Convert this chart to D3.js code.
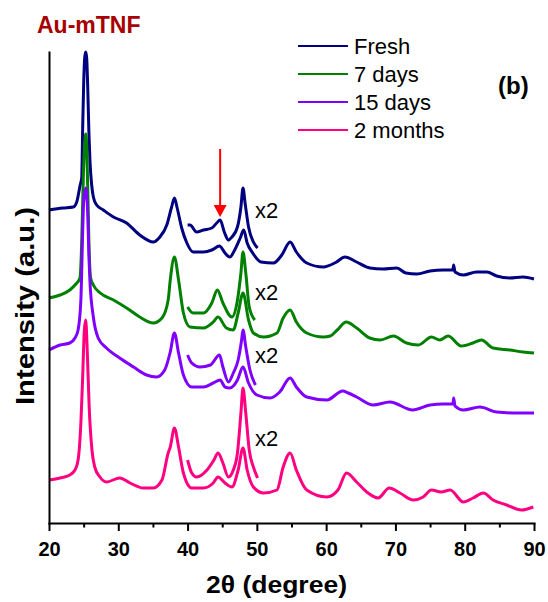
<!DOCTYPE html>
<html><head><meta charset="utf-8">
<script src="https://cdn.jsdelivr.net/npm/d3@7"></script>
<style>
html,body{margin:0;padding:0;background:#fff;}
svg{display:block;font-family:"Liberation Sans",Arial,Helvetica,sans-serif;}
</style>
</head><body>
<svg id="chart" width="548" height="602"></svg>
<script>
// ---- data: [2theta (degree), intensity (a.u., offset stacked)] ----
const seriesNames = ["Fresh", "7 days", "15 days", "2 months"];
const seriesColors = ["#000080", "#008000", "#8000ff", "#ff0080"];

const freshMain = [[20,313],[22,315],[23.5,316],[24,321],[24.5,338],[24.72,345],[24.86,395],[25,438],[25.15,465],[25.3,471],[25.44,465],[25.58,438],[25.77,388],[25.92,361],[26.16,338],[26.4,326],[26.88,318],[27.84,313],[29.3,306],[31.2,300],[33.1,288],[35.05,281],[36,286],[37,298],[37.7,316],[38.1,325],[38.5,315],[39.15,295],[39.9,280],[40.8,271],[42.3,271],[43.5,273],[44.6,277],[45.4,270],[46.1,266],[46.8,273],[47.6,285],[48.1,293],[48.6,280],[49.4,270],[50.6,261],[52.4,260],[53.6,268],[54.8,281],[55.7,271],[57.2,260],[59.6,256],[61.5,261],[62.7,266],[64.4,261],[66.3,255],[68.2,254],[70.2,255],[71.5,250],[73.1,249],[75,252],[76.9,253],[78.3,253],[78.4,258],[78.6,251],[79.8,248],[81.7,251],[83.2,251],[84.6,247],[86.5,245],[88.4,246],[90,244]];
const freshX2 = [[40,298],[40.35,298],[41.3,291],[42.3,293],[43.5,295],[44.2,300],[44.7,303],[45.3,291],[45.9,283],[46.4,286],[47.2,296],[47.7,316],[48,335],[48.3,320],[48.8,296],[49.5,281],[50.1,275]];

const days7Main = [[20,225],[21.6,228],[23,233],[23.75,238],[24.47,245],[24.71,278],[24.95,345],[25.15,378],[25.29,389],[25.44,378],[25.58,338],[25.77,278],[26.01,245],[26.4,238],[27.4,230],[29.3,223],[31.2,215],[33.1,206],[35.05,200],[36.3,205],[37.2,223],[37.5,243],[38.1,266],[38.7,243],[39.4,210],[40.35,196],[42.3,195],[43.7,201],[44.4,206],[45.6,195],[46.6,193],[47.3,210],[48,230],[48.8,203],[49.5,190],[50.95,186],[52.9,190],[53.8,205],[54.8,213],[55.7,201],[57.2,190],[59.6,186],[60.6,187],[61.6,193],[62.9,201],[64.4,195],[66.3,185],[67.8,183],[69.7,187],[71.6,180],[73.3,178],[75.2,186],[76.4,183],[77.6,187],[79.5,177],[81.2,180],[82.4,183],[84.1,175],[86.5,173],[88.4,171],[90,170]];
const days7X2 = [[40,216],[40.8,210],[42.3,210],[43.5,220],[44.3,233],[45.1,220],[46.4,206],[47.2,223],[47.7,250],[48,271],[48.4,250],[48.9,216],[49.7,203]];

const days15Main = [[20,173],[21.6,178],[23,180],[23.75,185],[24.2,193],[24.6,223],[24.86,291],[25,321],[25.29,335],[25.58,311],[25.77,265],[25.9,243],[26.4,206],[27.1,185],[28.3,175],[30.2,165],[32.2,156],[34.1,148],[35.5,146],[36.7,153],[37.5,171],[38.1,190],[38.7,170],[39.4,148],[40.6,136],[42.3,136],[43.7,140],[44.7,143],[45.4,136],[46.1,135],[47.2,143],[48,156],[48.8,140],[50,128],[51.9,125],[53.3,131],[54.8,145],[55.7,136],[57.2,126],[60.1,123],[62.4,132],[63.2,130],[64.4,126],[66.8,118],[69.2,121],[72.5,113],[75,118],[76.9,119],[78.3,119],[78.4,125],[78.6,117],[79.8,113],[82.2,116],[84.6,111],[87.5,110],[90,110]];
const days15X2 = [[40,168],[40.6,160],[41.8,156],[43.3,158],[44.6,168],[45.1,156],[45.9,141],[46.6,150],[47.3,163],[47.8,183],[48,193],[48.4,176],[49,153],[49.8,138]];

const months2Main = [[20,43],[21.6,45],[23,48],[23.75,53],[24.2,63],[24.6,100],[24.86,146],[25.1,193],[25.3,203],[25.5,176],[25.8,116],[26.2,73],[26.6,56],[27.35,46],[28.3,41],[30.2,45],[31.7,40],[33.6,35],[35.05,35],[36.3,43],[37.2,70],[37.5,76],[38.1,95],[38.7,76],[39.4,50],[40.6,35],[42.3,35],[43.7,40],[44.4,46],[45.4,40],[46.4,36],[47.3,53],[48,75],[48.6,53],[49.5,36],[50.95,30],[52.9,33],[53.8,56],[54.8,70],[55.7,53],[57.2,33],[60.1,26],[61.7,33],[62.95,50],[64.4,41],[65.85,31],[67.5,25],[69.1,35],[70.65,30],[72.6,23],[74,26],[75.2,33],[76.6,31],[77.9,33],[79.8,21],[81.2,25],[82.7,30],[84.1,23],[86.05,18],[88.2,13],[89.9,16]];
const months2X2 = [[40,63],[40.6,50],[41.3,46],[42.8,53],[43.8,63],[44.4,70],[45.1,60],[45.9,46],[46.6,53],[47.2,70],[47.7,110],[48,135],[48.4,110],[48.9,73],[49.5,56],[50.1,45]];

const majorTicks = [20, 30, 40, 50, 60, 70, 80, 90];
const minorTicks = [25, 35, 45, 55, 65, 75, 85];
const magnifyLabel = "x2";
const arrowAngle = 44.7;

// ---- drawing ----
const svg = d3.select("#chart");
const x = d3.scaleLinear().domain([20, 90]).range([49, 534]);
const y = d3.scaleLinear().domain([0, 471]).range([523, 52]);

const mains = [freshMain, days7Main, days15Main, months2Main];
const insets = [freshX2, days7X2, days15X2, months2X2];

const line = d3.line().x(d => x(d[0])).y(d => y(d[1])).curve(d3.curveMonotoneX);

mains.forEach((s, i) => {
  svg.append("path").datum(s).attr("d", line)
    .attr("fill", "none").attr("stroke", seriesColors[i])
    .attr("stroke-width", 3).attr("stroke-linejoin", "round");
  svg.append("path").datum(insets[i]).attr("d", line)
    .attr("fill", "none").attr("stroke", seriesColors[i])
    .attr("stroke-width", 3).attr("stroke-linejoin", "round");
});

// x2 labels
const x2Baselines = [218, 300, 363, 446];
insets.forEach((s, i) => {
  svg.append("text").text(magnifyLabel)
    .attr("x", 255).attr("y", x2Baselines[i])
    .attr("font-size", 22).attr("fill", "#000");
});

// axes
const gx = svg.append("g").attr("transform", `translate(0,${y(0)})`)
  .call(d3.axisBottom(x).tickValues(majorTicks).tickSize(8).tickSizeOuter(0).tickPadding(11));
gx.selectAll("text").attr("font-size", 20).attr("font-weight", "bold")
  .attr("font-family", "'Liberation Sans',Arial,sans-serif").attr("fill", "#000");
const gxm = svg.append("g").attr("transform", `translate(0,${y(0)})`)
  .call(d3.axisBottom(x).tickValues(minorTicks).tickSize(4.5).tickSizeOuter(0).tickFormat(""));
gxm.select(".domain").remove();
const gy = svg.append("g").attr("transform", `translate(${x(20)},0)`)
  .call(d3.axisLeft(y).tickValues([]).tickSizeOuter(0));
[gx, gxm, gy].forEach(g => {
  g.selectAll("path,line").attr("stroke", "#000").attr("stroke-width", 2);
});
gx.select(".domain").attr("stroke-linecap", "square");
gy.select(".domain").attr("stroke-linecap", "square");

// axis titles
svg.append("text").text("2\u03B8 (degree)")
  .attr("x", 276.5).attr("y", 593).attr("text-anchor", "middle")
  .attr("font-size", 24).attr("font-weight", "bold").attr("fill", "#000")
  .attr("textLength", 141).attr("lengthAdjust", "spacingAndGlyphs");
svg.append("text").text("Intensity (a.u.)")
  .attr("transform", "translate(34,306) rotate(-90)").attr("text-anchor", "middle")
  .attr("font-size", 25).attr("font-weight", "bold").attr("fill", "#000")
  .attr("textLength", 198).attr("lengthAdjust", "spacingAndGlyphs");

// title & panel label
svg.append("text").text("Au-mTNF").attr("x", 37).attr("y", 33)
  .attr("font-size", 23).attr("font-weight", "bold").attr("fill", "#a80000");
svg.append("text").text("(b)").attr("x", 498).attr("y", 94)
  .attr("font-size", 24).attr("font-weight", "bold").attr("fill", "#000");

// legend
const lg = svg.append("g");
seriesNames.forEach((n, i) => {
  const cy = 46 + i * 28;
  lg.append("line").attr("x1", 298).attr("x2", 348).attr("y1", cy).attr("y2", cy)
    .attr("stroke", seriesColors[i]).attr("stroke-width", 2);
  lg.append("text").text(n).attr("x", 354).attr("y", cy + 8)
    .attr("font-size", 22).attr("fill", "#000");
});

// red arrow
const ax = x(arrowAngle);
svg.append("line").attr("x1", ax).attr("x2", ax).attr("y1", 149).attr("y2", 207)
  .attr("stroke", "#ff0000").attr("stroke-width", 2);
svg.append("path").attr("d", `M${ax-6.5},205L${ax+6.5},205L${ax},217Z`).attr("fill", "#ff0000");
</script>
</body></html>
